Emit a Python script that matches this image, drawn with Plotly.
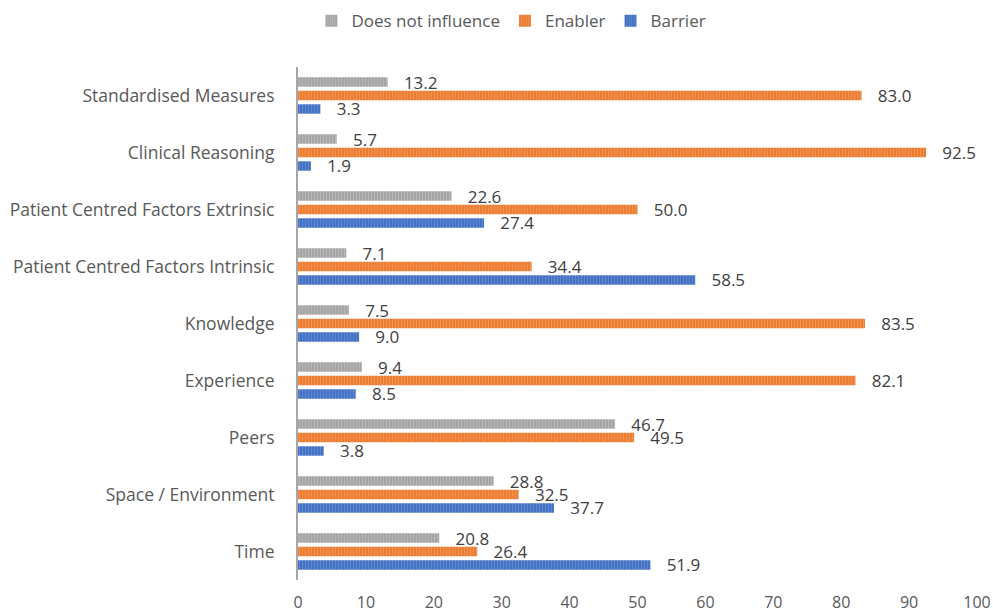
import plotly.graph_objects as go

categories = ["Standardised Measures", "Clinical Reasoning", "Patient Centred Factors Extrinsic",
              "Patient Centred Factors Intrinsic", "Knowledge", "Experience", "Peers",
              "Space / Environment", "Time"]
does_not_influence = [13.2, 5.7, 22.6, 7.1, 7.5, 9.4, 46.7, 28.8, 20.8]
enabler = [83.0, 92.5, 50.0, 34.4, 83.5, 82.1, 49.5, 32.5, 26.4]
barrier = [3.3, 1.9, 27.4, 58.5, 9.0, 8.5, 3.8, 37.7, 51.9]

series = [
    ("Does not influence", does_not_influence, "#A5A5A5", "#C9C9C9"),
    ("Enabler", enabler, "#ED7D31", "#F4A877"),
    ("Barrier", barrier, "#4472C4", "#7C9BD6"),
]

fig = go.Figure()
for name, vals, col, fg in series:
    fig.add_trace(go.Bar(
        name=name, y=categories, x=vals, orientation="h",
        marker=dict(color=col, line=dict(width=0),
                    pattern=dict(shape="|", fgcolor=fg, bgcolor=col, size=3, solidity=0.35)),
        text=["\u00a0\u00a0\u00a0" + f"{v:.1f}" for v in vals], textposition="outside",
        constraintext="none",
        textfont=dict(size=17, color="#404040", family="Open Sans"),
        cliponaxis=False,
    ))

fig.update_layout(
    width=993, height=615,
    margin=dict(l=298, r=16, t=67, b=35, autoexpand=False),
    paper_bgcolor="white", plot_bgcolor="white",
    barmode="group", bargap=0.29, bargroupgap=0.3,
    font=dict(family="Open Sans", size=16, color="#595959"),
    legend=dict(orientation="h", x=0.515, xanchor="center", xref="container",
                y=0.995, yanchor="top", yref="container",
                font=dict(size=17, color="#595959"), traceorder="normal", itemwidth=30),
    xaxis=dict(range=[0, 100], dtick=10, showgrid=False, zeroline=False, showline=False,
               automargin=False,
               ticks="", ticklabelstandoff=11, tickfont=dict(size=16, color="#595959")),
    yaxis=dict(autorange="reversed", showgrid=False, zeroline=False, showline=True,
               automargin=False,
               linecolor="#A6A6A6", linewidth=2, ticks="", ticklabelstandoff=18,
               tickfont=dict(size=17.5, color="#595959")),
)

fig.write_html("out.html")
